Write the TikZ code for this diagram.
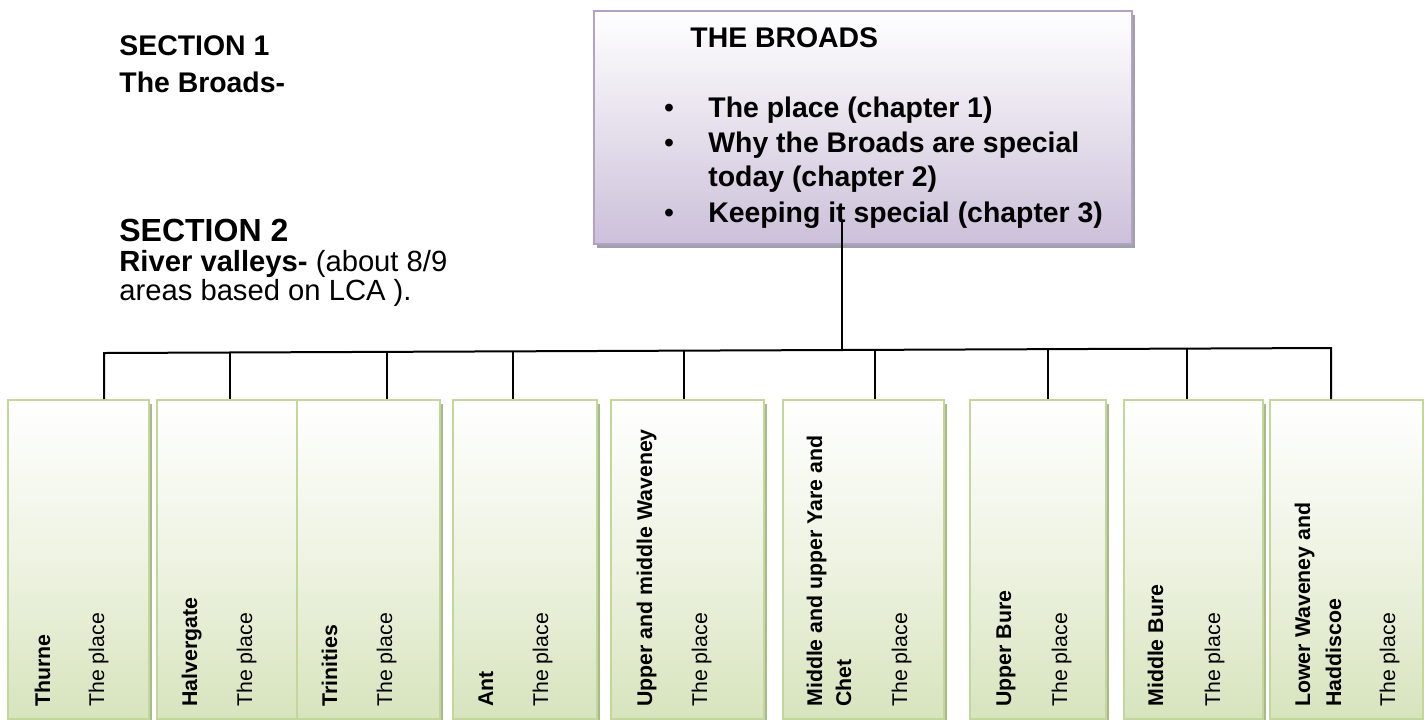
\documentclass[tikz,border=0pt]{standalone}
\usepackage{fontspec}
\setmainfont{Liberation Sans}
\usetikzlibrary{shadows}
\definecolor{lavbot}{HTML}{CCC0DA}
\definecolor{lavmid}{HTML}{E6E0EC}
\definecolor{lavline}{HTML}{B3A2C7}
\definecolor{lavshadow}{HTML}{A0A0A8}
\definecolor{grnbot}{HTML}{D7E4BD}
\definecolor{grnmid}{HTML}{EEF3E2}
\definecolor{grnline}{HTML}{C3D69B}
\definecolor{grnshadow}{HTML}{A9B98A}
\begin{document}
\begin{tikzpicture}[x=0.5pt,y=-0.5pt,
  gbox/.style={draw=grnline, line width=1pt, top color=white, bottom color=grnbot, middle color=grnmid,
    anchor=north west, minimum height=159.5pt, inner sep=0pt,
    drop shadow={shadow xshift=1.5pt, shadow yshift=-2pt, fill=grnshadow, opacity=1}},
  pbox/.style={draw=lavline, line width=1pt, top color=white, bottom color=lavbot, middle color=lavmid,
    anchor=north west, inner sep=0pt,
    drop shadow={shadow xshift=1.5pt, shadow yshift=-2pt, fill=lavshadow, opacity=1}},
  txt/.style={anchor=base west, inner sep=0pt, font=\fontsize{14.6pt}{17pt}\selectfont},
  btxt/.style={anchor=base west, inner sep=0pt, font=\bfseries\fontsize{14.2pt}{17pt}\selectfont},
  bigtxt/.style={anchor=base west, inner sep=0pt, font=\bfseries\fontsize{16pt}{19pt}\selectfont},
  bul/.style={anchor=base, inner sep=0pt, font=\fontsize{14.2pt}{17pt}\selectfont},
  vlab/.style={rotate=90, anchor=base west, inner sep=0pt, font=\fontsize{10.65pt}{13pt}\selectfont},
  vbold/.style={rotate=90, anchor=base west, inner sep=0pt, font=\bfseries\fontsize{10.65pt}{13pt}\selectfont},
  conn/.style={draw=black, line width=1pt}]
\useasboundingbox (0,0) rectangle (1424,719);
\fill[white] (0,0) rectangle (1424,719);

% left texts
\node[btxt] (s1) at (119,55) {SECTION 1};
\node[btxt] (s1b) at (119,92) {The Broads-};
\node[bigtxt] (s2) at (119,241) {SECTION 2};
\node[txt] (s2a) at (119,271) {\textbf{River valleys-} (about 8/9};
\node[txt] (s2b) at (119,300) {areas based on LCA ).};

% the Broads box
\node[pbox, minimum width=269pt, minimum height=116.5pt] (broads) at (593,10) {};
\node[btxt] (bt) at (690,47) {THE BROADS};
\node[bul] (u1) at (669,117) {•};
\node[btxt] (l1) at (708,117) {The place (chapter 1)};
\node[bul] (u2) at (669,152) {•};
\node[btxt] (l2) at (708,152) {Why the Broads are special};
\node[btxt] (l3) at (708,186) {today (chapter 2)};
\node[bul] (u3) at (669,222) {•};
\node[btxt] (l4) at (708,222) {Keeping it special (chapter 3)};

% green boxes
\node[gbox, minimum width=70.5pt] (b1) at (7,399) {};
\node[gbox, minimum width=70pt] (b2) at (156,399) {};
\node[gbox, minimum width=71.5pt] (b3) at (296,399) {};
\node[gbox, minimum width=72pt] (b4) at (452,399) {};
\node[gbox, minimum width=76.5pt] (b5) at (610,399) {};
\node[gbox, minimum width=80.5pt] (b6) at (782,399) {};
\node[gbox, minimum width=68pt] (b7) at (969,399) {};
\node[gbox, minimum width=69.5pt] (b8) at (1123,399) {};
\node[gbox, minimum width=76.5pt] (b9) at (1269,399) {};

% rotated labels
\node[vbold] (t1) at (50,707) {Thurne};
\node[vlab] (p1) at (104,707) {The place};
\node[vbold] (t2) at (197,707) {Halvergate};
\node[vlab] (p2) at (252,707) {The place};
\node[vbold] (t3) at (337,707) {Trinities};
\node[vlab] (p3) at (392,707) {The place};
\node[vbold] (t4) at (493,707) {Ant};
\node[vlab] (p4) at (548,707) {The place};
\node[vbold] (t5) at (652,707) {Upper and middle Waveney};
\node[vlab] (p5) at (707,707) {The place};
\node[vbold] (t6) at (822,707) {Middle and upper Yare and};
\node[vbold] (t6b) at (851,707) {Chet};
\node[vlab] (p6) at (907,707) {The place};
\node[vbold] (t7) at (1011,707) {Upper Bure};
\node[vlab] (p7) at (1067,707) {The place};
\node[vbold] (t8) at (1163,707) {Middle Bure};
\node[vlab] (p8) at (1220,707) {The place};
\node[vbold] (t9) at (1310,707) {Lower Waveney and};
\node[vbold] (t9b) at (1341,707) {Haddiscoe};
\node[vlab] (p9) at (1395,707) {The place};

% connector tree
\coordinate (j1) at (104,353);
\coordinate (j2) at (230,352.5);
\coordinate (j3) at (387,351.8);
\coordinate (j4) at (513,351.3);
\coordinate (j5) at (684,350.6);
\coordinate (jb) at (842,350.5);
\coordinate (j6) at (875,349.9);
\coordinate (j7) at (1048,349.2);
\coordinate (j8) at (1187,348.6);
\coordinate (j9) at (1331,348);
\coordinate (top) at (842,220);
\draw[conn] (j1 |- b1.north) -- (j1) -- (j9) -- (j9 |- b9.north);
\draw[conn] (j2) -- (j2 |- b2.north);
\draw[conn] (j3) -- (j3 |- b3.north);
\draw[conn] (j4) -- (j4 |- b4.north);
\draw[conn] (j5) -- (j5 |- b5.north);
\draw[conn] (j6) -- (j6 |- b6.north);
\draw[conn] (j7) -- (j7 |- b7.north);
\draw[conn] (j8) -- (j8 |- b8.north);
\draw[conn] (top) -- (jb);
\end{tikzpicture}
\end{document}
